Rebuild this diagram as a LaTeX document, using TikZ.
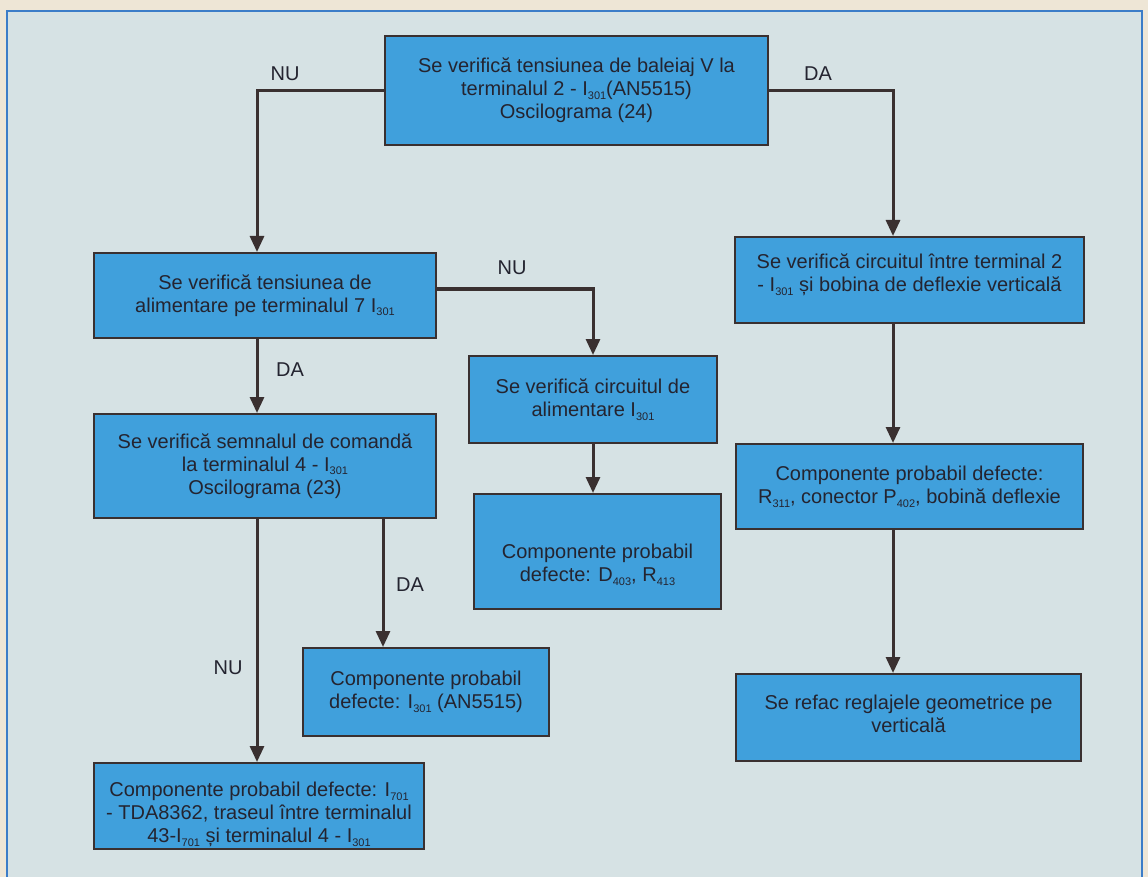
\documentclass[tikz,border=0pt]{standalone}
\usepackage{fontspec}
\setmainfont{Liberation Sans}
\usetikzlibrary{arrows.meta,calc}
\definecolor{boxc}{RGB}{64,160,220}
\definecolor{bgc}{RGB}{214,226,228}
\definecolor{outc}{RGB}{238,230,214}
\definecolor{framec}{RGB}{60,125,200}
\definecolor{txtc}{RGB}{36,36,48}
\definecolor{linec}{RGB}{58,48,48}
\newcommand\ix[1]{\raisebox{-0.35ex}{\fontsize{11pt}{11pt}\selectfont #1}}
\newcommand\upstrut[1]{\rule{0pt}{#1}}
\newcommand\downstrut[1]{\rule[-#1]{0pt}{#1}}
\begin{document}
\begin{tikzpicture}[x=1pt,y=-1pt,
  box/.style={draw=linec, line width=2pt, fill=boxc, text=txtc, align=center,
    inner sep=0pt, anchor=north west, font=\fontsize{20pt}{23pt}\selectfont},
  lbl/.style={text=txtc, font=\fontsize{20pt}{23pt}\selectfont},
  arr/.style={draw=linec, line width=3pt, -{Triangle[length=16pt,width=14pt]}}]
\useasboundingbox (0,0) rectangle (1148,877);
\fill[outc] (0,0) rectangle (1148,877);
\fill[bgc] (7,11) rectangle (1142,880);
\draw[framec, line width=1.5pt] (7,880) -- (7,11) -- (1142,11) -- (1142,880);

\node[box, minimum width=383pt, minimum height=109pt] (top) at (384,35)
  {Se verifică tensiunea de baleiaj V la\\terminalul 2 - I\ix{301}(AN5515)\\Oscilograma (24)};
\node[box, minimum width=342pt, minimum height=85pt] (box2) at (93,252)
  {Se verifică tensiunea de\\alimentare pe terminalul 7 I\ix{301}};
\node[box, minimum width=342pt, minimum height=104pt] (box3) at (93,413)
  {Se verifică semnalul de comandă\\la terminalul 4 - I\ix{301}\\Oscilograma (23)};
\node[box, minimum width=248pt, minimum height=87pt] (mid1) at (468,355)
  {Se verifică circuitul de\\alimentare I\ix{301}};
\node[box, minimum width=247pt, minimum height=115pt] (mid2) at (473,493)
  {\upstrut{41pt}Componente probabil\\defecte: D\ix{403}, R\ix{413}};
\node[box, minimum width=246pt, minimum height=88pt] (box4) at (302,647)
  {Componente probabil\\defecte: I\ix{301} (AN5515)};
\node[box, minimum width=330pt, minimum height=86pt] (box5) at (93,762)
  {\upstrut{31pt}Componente probabil defecte: I\ix{701}\\- TDA8362, traseul între terminalul\\43-I\ix{701} și terminalul 4 - I\ix{301}};
\node[box, minimum width=349pt, minimum height=86pt] (right1) at (734,236)
  {Se verifică circuitul între terminal 2\\- I\ix{301} și bobina de deflexie verticală\downstrut{14pt}};
\node[box, minimum width=347pt, minimum height=85pt] (right2) at (735,443)
  {Componente probabil defecte:\\R\ix{311}, conector P\ix{402}, bobină deflexie};
\node[box, minimum width=345pt, minimum height=87pt] (right3) at (735,673)
  {Se refac reglajele geometrice pe\\verticală\downstrut{8pt}};

\draw[arr] (top.west) -| ($(box2.north west)+(164,0)$);
\draw[arr] (top.east) -| ($(right1.north west)+(159,0)$);
\draw[arr] ($(box2.north east)+(0,37)$) -| (mid1.north);
\draw[arr] ($(box2.south west)+(164,0)$) -- ($(box3.north west)+(164,0)$);
\draw[arr] ($(box3.south west)+(164,0)$) -- ($(box5.north west)+(164,0)$);
\draw[arr] ($(box3.south west)+(290,0)$) -- ($(box4.north west)+(81,0)$);
\draw[arr] (mid1.south) -- (mid1.south |- mid2.north);
\draw[arr] ($(right1.south west)+(159,0)$) -- ($(right2.north west)+(158,0)$);
\draw[arr] ($(right2.south west)+(158,0)$) -- ($(right3.north west)+(158,0)$);

\node[lbl] (l1) at (285,74) {NU};
\node[lbl] (l2) at (818,74) {DA};
\node[lbl] (l3) at (512,268) {NU};
\node[lbl] (l4) at (290,370) {DA};
\node[lbl] (l5) at (410,585) {DA};
\node[lbl] (l6) at (228,668) {NU};
\end{tikzpicture}
\end{document}
